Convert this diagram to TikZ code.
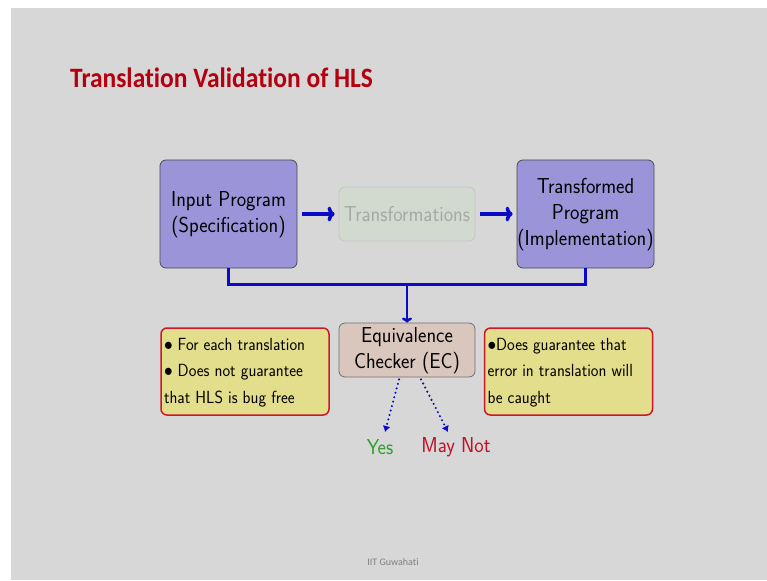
\documentclass[tikz,border=0pt]{standalone}
\usepackage{fontspec}
\usepackage{graphicx}
\newfontfamily\titlefont{Carlito}[Ligatures=NoCommon]
\renewcommand\familydefault{\sfdefault}
\usetikzlibrary{arrows.meta}

\definecolor{slidebg}{HTML}{D7D7D7}
\definecolor{progfill}{HTML}{9B94D8}
\definecolor{progedge}{HTML}{4A4A55}
\definecolor{trfill}{HTML}{D2D9CF}
\definecolor{tredge}{HTML}{C2C9BF}
\definecolor{trtext}{HTML}{A5ABA3}
\definecolor{ecfill}{HTML}{D9C6BD}
\definecolor{ecedge}{HTML}{707070}
\definecolor{notefill}{HTML}{E3DE8C}
\definecolor{noteedge}{HTML}{CE1628}
\definecolor{flowblue}{HTML}{0A0AC8}
\definecolor{titlered}{HTML}{B4000E}
\definecolor{yesgreen}{HTML}{2E9E2E}
\definecolor{nored}{HTML}{C0102A}

% text of the slide is set slightly taller than the font's own proportions
\newcommand\tall[1]{\scalebox{1}[1.08]{#1}}
\newcommand\cbox[1]{\tall{\begin{tabular}{@{}c@{}}#1\end{tabular}}}
\newcommand\lbox[1]{\tall{\begin{tabular}{@{}p{162pt}@{}}#1\end{tabular}}}
\newcommand\itemdot{$\bullet$}

\tikzset{
  bigfont/.style={font=\fontsize{20}{24.3}\selectfont},
  notefont/.style={font=\fontsize{16.3}{24.5}\selectfont},
  progbox/.style={draw=progedge, line width=0.8pt, fill=progfill, rounded corners=6pt,
    minimum width=137pt, minimum height=108pt, inner sep=0pt, bigfont, text=black},
  trbox/.style={draw=tredge, line width=0.8pt, fill=trfill, rounded corners=6pt,
    minimum width=136pt, minimum height=54pt, inner sep=0pt, bigfont, text=trtext},
  ecbox/.style={draw=ecedge, line width=0.8pt, fill=ecfill, rounded corners=6pt,
    minimum width=136pt, minimum height=54pt, inner sep=0pt, bigfont, text=black},
  notebox/.style={draw=noteedge, line width=1.5pt, fill=notefill, rounded corners=6pt,
    minimum width=168pt, minimum height=87pt, inner xsep=3pt, inner ysep=0pt, notefont,
    text=black},
  flow/.style={draw=flowblue, line width=3.5pt},
  flowarrow/.style={flow, -{To[length=7pt,width=15pt]}},
  busarrow/.style={draw=flowblue, line width=2.5pt, -{To[length=5pt,width=10pt]}},
  verdict/.style={draw=flowblue, line width=2.3pt, line cap=round,
    dash pattern=on 0pt off 4.6pt, -{Latex[length=6pt,width=8pt]}},
  answer/.style={bigfont, inner sep=0pt},
}

\begin{document}
\begin{tikzpicture}[x=1pt,y=-1pt]
  \useasboundingbox (0,0) rectangle (767,580);
  \fill[white] (0,0) rectangle (767,580);
  \fill[slidebg] (11,8) rectangle (767,580);

  % slide title
  \node[anchor=base west, inner sep=0pt, text=titlered] (title) at (70,88)
    {\scalebox{1}[1.1]{\titlefont\bfseries\fontsize{25.5}{30}\selectfont Translation Validation of HLS}};

  % the translation flow
  \node[progbox] (in) at (228.5,214) {\cbox{Input Program\\(Specification)}};
  \node[trbox] (tr) at (407,214) {\tall{Transformations}};
  \node[progbox] (out) at (585.5,214) {\cbox{Transformed\\Program\\(Implementation)}};

  \draw[flowarrow] ([xshift=5pt]in.east) -- ([xshift=-4pt]tr.west);
  \draw[flowarrow] ([xshift=5pt]tr.east) -- ([xshift=-4pt]out.west);

  % equivalence checker
  \node[ecbox] (ec) at (407,350) {\cbox{Equivalence\\Checker (EC)}};

  \coordinate (busL) at ([yshift=-16pt]in.south);
  \coordinate (busR) at ([yshift=-16pt]out.south);
  \coordinate (busM) at (busL -| ec.north);
  \draw[flow, line width=3.5pt] (in.south) -- (busL) -- (busR) -- (out.south);
  \draw[busarrow] (busM) -- (ec.north);

  % side remarks
  \node[notebox] (noteL) at (245,371.5)
    {\lbox{\itemdot{} For each translation\\\itemdot{} Does not guarantee\\that HLS is bug free}};
  \node[notebox] (noteR) at (568.5,371.5)
    {\lbox{\itemdot Does guarantee that\\error in translation will\\be caught}};

  % outcomes
  \node[answer, text=yesgreen] (yes) at (380,447) {\tall{Yes}};
  \node[answer, text=nored] (maynot) at (456,447) {\tall{May Not}};
  \coordinate (yesTip) at (385,432);
  \coordinate (noTip) at (448,432);
  \draw[verdict] ([xshift=-8pt,yshift=-2pt]ec.south) -- (yesTip);
  \draw[verdict] ([xshift=14pt,yshift=-2pt]ec.south) -- (noTip);

  % footer
  \node[text=black!50, inner sep=0pt] (footer) at (393,562)
    {\titlefont\fontsize{10}{12}\selectfont IIT Guwahati};
\end{tikzpicture}
\end{document}
